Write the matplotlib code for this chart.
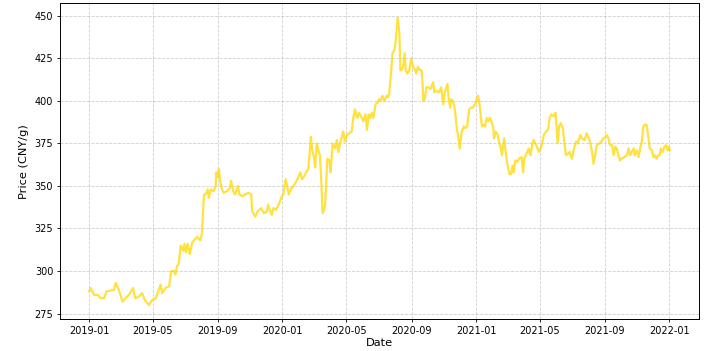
import pandas as pd
import matplotlib
matplotlib.use('Agg')
import matplotlib.pyplot as plt

# days since 2019-01-01 and gold price (CNY/g)
days = [0, 3, 9, 16, 22, 28, 33, 41, 47, 50, 56, 63, 69, 75, 83, 87, 94, 100, 105, 113,
        119, 126, 135, 138, 144, 151, 155, 160, 163, 166, 169, 173, 178, 180, 183, 186, 190, 195, 204, 210,
        213, 217, 220, 224, 226, 230, 235, 239, 240, 243, 245, 248, 251, 254, 261, 266, 268, 272, 276, 281,
        284, 289, 295, 301, 306, 308, 314, 318, 322, 325, 330, 336, 338, 341, 345, 348, 353, 358, 364, 367,
        371, 374, 377, 381, 386, 392, 399, 402, 405, 410, 414, 419, 421, 425, 427, 430, 433, 436, 439, 441,
        444, 446, 450, 454, 456, 460, 465, 468, 471, 474, 480, 483, 487, 496, 499, 502,
        507, 510, 515, 518, 522, 525, 528, 531, 534, 537, 541, 545, 548, 551, 554, 558, 562, 565, 567, 570,
        573, 577, 579, 583, 586, 588, 590, 593, 596, 598, 601, 605, 608, 612, 616, 618, 621, 625, 628, 630,
        631, 634, 637, 641, 645, 650, 652, 656, 661, 665, 669, 672, 677, 679, 682, 684, 687, 690, 692, 695,
        697, 700, 704, 708, 711, 714, 718, 721, 725, 729, 731, 735, 738, 742, 745, 748, 751, 754, 757, 760,
        763, 765, 768, 772, 774, 777, 780, 784, 787, 790, 792, 794, 797, 800, 802, 805, 809, 812, 817, 820,
        822, 825, 828, 830, 834, 837, 840, 843, 846, 850, 853, 856, 859, 863, 867, 870, 873, 878, 881, 883,
        885, 888, 891, 895, 898, 901, 905, 908, 912, 916, 920, 923, 928, 931, 936, 940, 944, 947, 950, 953,
        956, 959, 964, 968, 971, 974, 978, 981, 984, 988, 991, 994, 997, 1000, 1003, 1006, 1011, 1016, 1019, 1022,
        1025, 1029, 1031, 1035, 1038, 1041, 1044, 1047, 1050, 1053, 1056, 1059, 1063, 1066, 1069, 1072, 1075, 1078, 1080, 1083,
        1087, 1090, 1093, 1095, 1097]

price = [288, 290, 286, 286, 284, 284, 288, 288.5, 289, 293, 289, 282, 284, 286, 290, 284, 285, 287, 283, 280,
         283, 284, 292, 287, 290, 291, 300, 300, 298, 303, 304, 315, 312, 316, 311, 316, 310, 317, 320, 318,
         322, 345, 345, 348, 343, 348, 347, 350, 358, 355, 360, 352, 348, 346, 347, 349, 353, 347, 345, 350,
         345, 344, 345, 346, 345, 335, 332, 335, 336, 337, 334, 335, 339, 336, 333, 337, 336, 339, 344, 345,
         354, 350, 345, 348, 350, 353, 358, 354, 355, 358, 360, 379, 372, 366, 361, 375, 371, 368, 350, 334,
         336, 340, 366, 365, 358, 375, 372, 377, 370, 375, 382, 376, 380, 382, 390, 395,
         390, 393, 390, 388, 392, 383, 392, 390, 393, 390, 398, 399, 401, 400, 403, 400, 403, 402, 405, 415,
         428, 430, 435, 449, 440, 418, 418, 420, 428, 418, 416, 418, 425, 420, 418, 416, 420, 418, 418, 410,
         400, 401, 408, 408, 407, 411, 405, 406, 405, 408, 398, 405, 410, 402, 396, 401, 400, 397, 392, 383,
         380, 372, 382, 385, 384, 385, 395, 396, 396, 398, 400, 403, 397, 385, 386, 385, 390, 388, 390, 388,
         385, 378, 382, 380, 376, 373, 368, 378, 370, 363, 360, 357, 357, 362, 358, 365, 364, 366, 367, 358,
         366, 368, 370, 372, 368, 375, 377, 375, 373, 370, 372, 375, 380, 382, 383, 390, 392, 391, 393, 385,
         375, 385, 387, 384, 375, 368, 369, 370, 366, 372, 376, 375, 380, 378, 377, 381, 378, 375, 370, 363,
         368, 374, 375, 376, 378, 378, 380, 378, 374, 374, 368, 373, 372, 368, 365, 366, 367, 368, 372, 368,
         370, 372, 368, 371, 367, 372, 376, 385, 386, 386, 380, 372, 371, 367, 368, 366, 368, 368, 372, 370,
         373, 374, 371, 373, 371]

dates = pd.Timestamp('2019-01-01') + pd.to_timedelta(days, unit='D')

fig = plt.figure(figsize=(7.16, 3.51), dpi=100)
ax = fig.add_axes([0.084, 0.09, 0.892, 0.901])

ax.plot(dates, price, color='gold', alpha=0.75, linewidth=1.6)

ax.set_xlabel('Date', fontsize=8.2, labelpad=1)
ax.set_ylabel('Price (CNY/g)', fontsize=8.2)
ax.tick_params(labelsize=7, width=0.6, length=2.5, pad=2.5)
ax.grid(True, linestyle='--', alpha=0.6, linewidth=0.6)
for s in ax.spines.values():
    s.set_linewidth(0.7)

plt.savefig('out.png', dpi=100)
